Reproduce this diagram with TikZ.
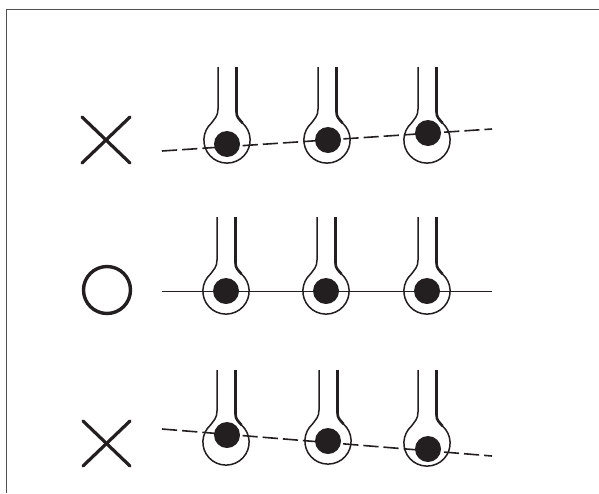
\documentclass[tikz,border=0pt]{standalone}
\tikzset{
  sym/.style={line width=3.2pt,line cap=round,draw=ink},
  thinwall/.style={line width=1.5pt,draw=ink},
  thickwall/.style={line width=2.6pt,draw=ink},
  ballfill/.style={fill=ink},
  dashline/.style={line width=1.6pt,draw=ink,dash pattern=on 15.2pt off 5pt},
  solidline/.style={line width=1pt,draw=ink}
}
\definecolor{ink}{RGB}{35,31,32}
\definecolor{framec}{RGB}{80,80,80}
% #1 x, #2 bulb centre y, #3 neck top y, #4 ball x, #5 ball y
\newcommand{\bulbshape}[5]{%
  \draw[thinwall] (#1-9,#3) -- (#1-9,#2-31) .. controls (#1-9,#2-24) and (#1-12,#2-22) .. (#1-15.5,#2-17)
    arc[start angle=228,end angle=90,radius=23];
  \draw[thinwall] (#1+15.5,#2-17) arc[start angle=-48,end angle=90,radius=23];
  \draw[thickwall] (#1+9.5,#3) -- (#1+9.5,#2-28) .. controls (#1+9.5,#2-23) and (#1+12,#2-21) .. (#1+15.5,#2-17);
  \fill[ballfill] (#4,#5) circle[radius=13];
}
\begin{document}
\begin{tikzpicture}[x=1pt,y=-1pt]
\useasboundingbox (0,0) rectangle (599,493);
\fill[white] (0,0) rectangle (599,493);
\draw[framec,line width=1.7pt] (6.5,493) -- (6.5,9.5) -- (599,9.5);
% top row
\draw[sym] (82,117) -- (130,163);
\draw[sym] (130,117) -- (82,163);
\draw[dashline] (162,151) -- (492,129);
\bulbshape{227}{140}{67}{227}{144}
\bulbshape{327}{140}{67}{328}{140}
\bulbshape{427}{140}{67}{428}{133}
% middle row
\draw[line width=3.4pt,draw=ink] (107,290) circle[radius=23.5];
\draw[solidline] (162,291) -- (492,291);
\bulbshape{226}{291}{217}{226}{291}
\bulbshape{326}{291}{217}{326}{291}
\bulbshape{427}{291}{217}{427}{291}
% bottom row
\draw[sym] (83,421) -- (130,466);
\draw[sym] (130,421) -- (83,466);
\draw[dashline] (162,429) -- (492,456);
\bulbshape{226}{442}{370}{227}{435}
\bulbshape{328}{441}{370}{328}{441}
\bulbshape{427}{443}{370}{428}{449}
\end{tikzpicture}
\end{document}
